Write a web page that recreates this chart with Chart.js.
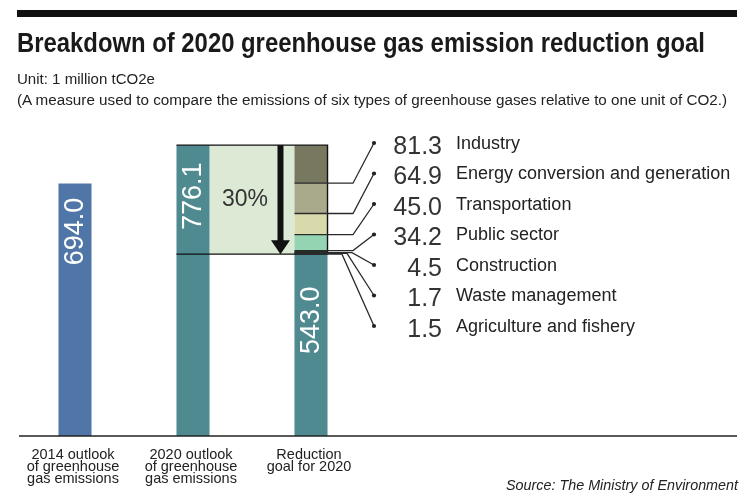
<!DOCTYPE html>
<html>
<head>
<meta charset="utf-8">
<script src="https://cdn.jsdelivr.net/npm/chart.js@4"></script>
<style>
  html, body { margin: 0; padding: 0; background: #fff; }
  #wrap { position: relative; width: 750px; height: 495px; overflow: hidden; font-family: "Liberation Sans", Arial, sans-serif; color: #1a1a1a; }
  #chart { position: absolute; left: 0; top: 0; }
  .rule { position: absolute; left: 17px; top: 10px; width: 720px; height: 7px; background: #111; }
  .txt { position: absolute; white-space: nowrap; transform-origin: 0 0; }
  #title { left: 17px; top: 30px; font-size: 27px; line-height: 27px; font-weight: bold; }
  #unit { left: 17px; top: 72px; font-size: 14px; line-height: 14px; color: #222; }
  #note { left: 17px; top: 93px; font-size: 14px; line-height: 14px; color: #222; }
  #source { left: 506px; top: 478px; font-size: 14px; line-height: 14px; font-style: italic; color: #222; }
</style>
</head>
<body>
<div id="wrap">
  <canvas id="chart" width="750" height="495"></canvas>
  <div class="rule"></div>
  <div class="txt" id="title">Breakdown of 2020 greenhouse gas emission reduction goal</div>
  <div class="txt" id="unit">Unit: 1 million tCO2e</div>
  <div class="txt" id="note">(A measure used to compare the emissions of six types of greenhouse gases relative to one unit of CO2.)</div>
  <div class="txt" id="source">Source: The Ministry of Environment</div>
</div>
<script>
// datos del gráfico
const categories = [
    ['2014 outlook', 'of greenhouse', 'gas emissions'],
    ['2020 outlook', 'of greenhouse', 'gas emissions'],
    ['Reduction', 'goal for 2020']
];
const totals = [694.0, 776.1, 543.0];
const sectors = ['Industry', 'Energy conversion and generation', 'Transportation', 'Public sector',
                 'Construction', 'Waste management', 'Agriculture and fishery'];
const reductions = [81.3, 64.9, 45.0, 34.2, 4.5, 1.7, 1.5];
const reductionShare = '30%';

// estilos
const barColors = ['#4f76a6', '#4f8a91', '#4f8a91'];
const sectorColors = ['#77785f', '#a8aa8b', '#d8daac', '#94d4b3', '#1f3327', '#1a1a1a', '#222222'];
const valueLabelOffsets = [48, 51, 66];
const elbowX = [353, 353, 353, 353, 352, 347, 342];
const FONT = '"Liberation Sans", Arial, sans-serif';

// rangos flotantes de cada sector, desde el total 2020 hacia abajo
const sectorRanges = [];
let hi = totals[1];
reductions.forEach(r => {
    sectorRanges.push([hi - r, hi]);
    hi = hi - r;
});

function fitWidth(id, target) {
    const el = document.getElementById(id);
    const w = el.getBoundingClientRect().width;
    el.style.transform = `scaleX(${target / w})`;
}
fitWidth('title', 688);
fitWidth('unit', 138);
fitWidth('note', 710);
fitWidth('source', 232);

const overlay = {
    id: 'overlay',
    beforeDatasetsDraw(chart) {
        const ctx = chart.ctx;
        const y = chart.scales.y;
        const bars = chart.getDatasetMeta(0).data;
        const yTop = y.getPixelForValue(totals[1]);
        const yBot = y.getPixelForValue(totals[2]);
        const x0 = bars[1].x + bars[1].width / 2;
        const x1 = bars[2].x - bars[2].width / 2;
        ctx.save();
        ctx.fillStyle = '#dcead5';
        ctx.fillRect(x0, yTop, x1 - x0, yBot - yTop);
        ctx.restore();
    },
    afterDatasetsDraw(chart) {
        const ctx = chart.ctx;
        const area = chart.chartArea;
        const y = chart.scales.y;
        const bars = chart.getDatasetMeta(0).data;
        const yTop = y.getPixelForValue(totals[1]);
        const yBot = y.getPixelForValue(totals[2]);
        const b2L = bars[1].x - bars[1].width / 2;
        const b2R = bars[1].x + bars[1].width / 2;
        const b3L = bars[2].x - bars[2].width / 2;
        const b3R = bars[2].x + bars[2].width / 2;

        ctx.save();
        // eje x
        ctx.strokeStyle = '#222';
        ctx.lineWidth = 1.3;
        ctx.beginPath();
        ctx.moveTo(19, area.bottom);
        ctx.lineTo(737, area.bottom);
        ctx.stroke();

        // marco de la reducción
        ctx.lineWidth = 1.4;
        ctx.strokeStyle = '#111';
        ctx.beginPath();
        ctx.moveTo(b2L, yTop);
        ctx.lineTo(b3R, yTop);
        ctx.lineTo(b3R, yBot);
        ctx.moveTo(b2L, yBot);
        ctx.lineTo(b3R, yBot);
        ctx.stroke();

        // flecha
        const ax = b3L - 14;
        ctx.fillStyle = '#111';
        ctx.fillRect(ax - 3, yTop, 6, yBot - yTop - 13);
        ctx.beginPath();
        ctx.moveTo(ax - 9.5, yBot - 14);
        ctx.lineTo(ax + 9.5, yBot - 14);
        ctx.lineTo(ax, yBot);
        ctx.closePath();
        ctx.fill();

        // porcentaje
        ctx.fillStyle = '#333';
        ctx.font = `23px ${FONT}`;
        ctx.textAlign = 'center';
        ctx.textBaseline = 'middle';
        ctx.fillText(reductionShare, (b2R + ax) / 2, (yTop + yBot) / 2);

        // líneas guía, puntos y etiquetas de sectores
        sectorRanges.forEach((range, i) => {
            const ys = y.getPixelForValue(range[0]);
            const base = 153.5 + 30.5 * i;
            const dotY = base - 10.5;
            ctx.strokeStyle = '#2a2a2a';
            ctx.lineWidth = 1.3;
            ctx.beginPath();
            ctx.moveTo(b3L, ys);
            ctx.lineTo(elbowX[i], ys);
            ctx.lineTo(374, dotY);
            ctx.stroke();
            ctx.fillStyle = '#222';
            ctx.beginPath();
            ctx.arc(374, dotY, 2.1, 0, Math.PI * 2);
            ctx.fill();

            ctx.textBaseline = 'alphabetic';
            ctx.textAlign = 'right';
            ctx.fillStyle = '#333';
            ctx.font = `25px ${FONT}`;
            ctx.fillText(reductions[i].toFixed(1), 442, base);
            ctx.textAlign = 'left';
            ctx.fillStyle = '#222';
            ctx.font = `18px ${FONT}`;
            ctx.fillText(sectors[i], 456, base - 5);
        });

        // valores dentro de las barras
        bars.forEach((bar, i) => {
            ctx.save();
            ctx.translate(bar.x, bar.y + valueLabelOffsets[i]);
            ctx.rotate(-Math.PI / 2);
            ctx.fillStyle = '#fff';
            ctx.font = `27px ${FONT}`;
            ctx.textAlign = 'center';
            ctx.textBaseline = 'middle';
            ctx.fillText(totals[i].toFixed(1), 0, 1);
            ctx.restore();
        });

        // etiquetas de categorías
        ctx.fillStyle = '#222';
        ctx.font = `14.5px ${FONT}`;
        ctx.textAlign = 'center';
        ctx.textBaseline = 'alphabetic';
        categories.forEach((lines, i) => {
            lines.forEach((line, j) => {
                ctx.fillText(line, bars[i].x - 2, area.bottom + 23 + j * 11.8);
            });
        });
        ctx.restore();
    }
};

const datasets = [{
    label: 'Emisiones',
    data: totals,
    backgroundColor: barColors,
    grouped: false,
    barPercentage: 0.28,
    categoryPercentage: 1
}];
sectors.forEach((name, i) => {
    datasets.push({
        label: name,
        data: [null, null, sectorRanges[i]],
        backgroundColor: sectorColors[i],
        grouped: false,
        barPercentage: 0.28,
        categoryPercentage: 1
    });
});

new Chart(document.getElementById('chart').getContext('2d'), {
    type: 'bar',
    data: { labels: categories.map(c => c.join(' ')), datasets },
    options: {
        responsive: false,
        animation: false,
        devicePixelRatio: 1,
        layout: { padding: { left: 16, right: 380, top: 134, bottom: 59 } },
        scales: {
            x: { display: false },
            y: { display: false, min: 154, max: 800 }
        },
        plugins: {
            legend: { display: false },
            tooltip: { enabled: false }
        }
    },
    plugins: [overlay]
});
</script>
</body>
</html>
